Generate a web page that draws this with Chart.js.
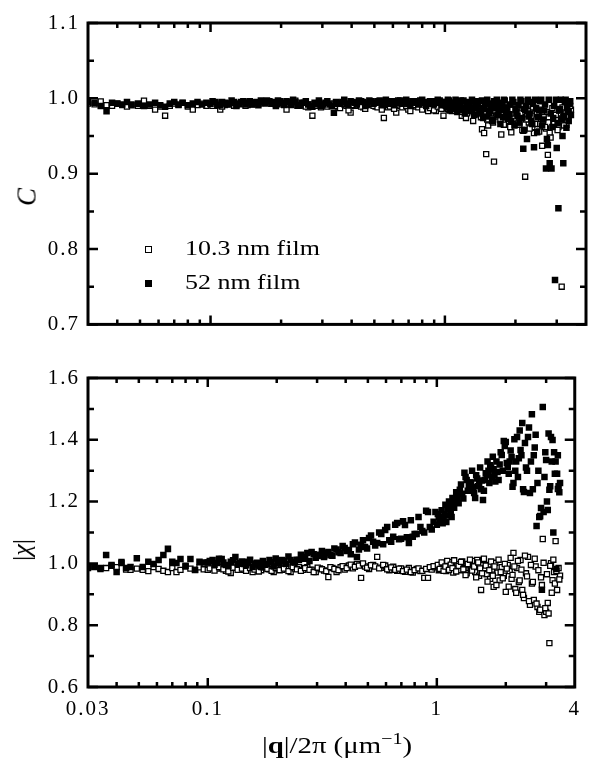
<!DOCTYPE html>
<html>
<head>
<meta charset="utf-8">
<script src="https://cdn.jsdelivr.net/npm/chart.js@4.4.0/dist/chart.umd.min.js"></script>
<style>
  body { margin: 0; background: #fff; width: 590px; height: 766px; position: relative; overflow: hidden;
         font-family: 'Liberation Serif', 'Times New Roman', serif; color: #000; }
  canvas { position: absolute; left: 0; }
  #top { top: 0; }
  #bot { top: 345px; }
  .lab { position: absolute; white-space: nowrap; line-height: 1; }
  .rot { transform: translate(-50%, -50%) rotate(-90deg); }
  .mk { position: absolute; box-sizing: border-box; width: 7px; height: 7px; border: 1.4px solid #000; }
</style>
</head>
<body>
<canvas id="top" width="590" height="345"></canvas>
<canvas id="bot" width="590" height="421"></canvas>

<div class="mk" style="left:145px;top:246px;background:#fff"></div>
<div class="lab" style="left:185px;top:237px;font-size:22px;transform:scaleX(1.18);transform-origin:left">10.3 nm film</div>
<div class="mk" style="left:145px;top:280px;background:#000"></div>
<div class="lab" style="left:185px;top:271px;font-size:22px;transform:scaleX(1.18);transform-origin:left">52 nm film</div>

<div class="lab rot" style="left:27px;top:197px;font-size:27px;font-style:italic">C</div>
<div class="lab rot" style="left:22px;top:550px;font-size:26px">|<i>χ</i>|</div>
<div class="lab" style="left:337px;top:731px;font-size:24px;transform:translateX(-50%) scaleX(1.2)">|<b>q</b>|/2π (μm<sup style="font-size:70%">−1</sup>)</div>

<script>
// q grid (|q|/2pi, 1/um) shared by all series
const qGrid = [
  0.030, 0.032, 0.034, 0.036, 0.038, 0.040, 0.042, 0.044, 0.046, 0.049, 0.052, 0.055,
  0.058, 0.061, 0.064, 0.067, 0.070, 0.073, 0.076, 0.080, 0.084, 0.088, 0.092, 0.096,
  0.100, 0.105, 0.110, 0.115, 0.120, 0.126, 0.132, 0.138, 0.144, 0.150,
  0.157, 0.164, 0.171, 0.178, 0.186, 0.194, 0.202, 0.211, 0.220, 0.230,
  0.240, 0.250, 0.261, 0.272, 0.284, 0.296, 0.309, 0.322, 0.336, 0.350,
  0.365, 0.380, 0.396, 0.413, 0.430, 0.448, 0.467, 0.486, 0.506, 0.527,
  0.549, 0.572, 0.595, 0.620, 0.645, 0.671, 0.698, 0.726, 0.755, 0.785,
  0.816, 0.848, 0.881, 0.915, 0.950, 0.986,
  1.00, 1.02, 1.04, 1.06, 1.08, 1.10, 1.12, 1.14, 1.16, 1.18,
  1.20, 1.23, 1.26, 1.29, 1.32, 1.35, 1.38, 1.41, 1.44, 1.47,
  1.50, 1.53, 1.56, 1.59, 1.62, 1.65, 1.68, 1.71, 1.74, 1.77,
  1.80, 1.84, 1.88, 1.92, 1.96, 2.00, 2.04, 2.08, 2.12, 2.16,
  2.20, 2.24, 2.28, 2.32, 2.36, 2.40, 2.45, 2.50, 2.55, 2.60,
  2.65, 2.70, 2.75, 2.80, 2.85, 2.90, 2.95, 3.00, 3.05, 3.10,
  3.15, 3.20, 3.25, 3.30, 3.35, 3.40, 3.45
];
// second, interleaved q grid (denser part of the data above 0.1)
const qGrid2 = [
  0.102, 0.107, 0.112, 0.117, 0.123, 0.129, 0.135, 0.141, 0.147, 0.153,
  0.160, 0.167, 0.174, 0.182, 0.190, 0.198, 0.206, 0.215, 0.225, 0.235,
  0.245, 0.255, 0.266, 0.278, 0.290, 0.302, 0.315, 0.329, 0.343, 0.357,
  0.372, 0.388, 0.404, 0.421, 0.439, 0.457, 0.476, 0.496, 0.516, 0.538,
  0.560, 0.583, 0.607, 0.632, 0.658, 0.684, 0.712, 0.740, 0.770, 0.800,
  0.832, 0.864, 0.898, 0.932, 0.968,
  1.01, 1.03, 1.05, 1.07, 1.09, 1.11, 1.13, 1.15, 1.17, 1.19,
  1.215, 1.245, 1.275, 1.305, 1.335, 1.365, 1.395, 1.425, 1.455, 1.485,
  1.515, 1.545, 1.575, 1.605, 1.635, 1.665, 1.695, 1.725, 1.755, 1.785,
  1.82, 1.86, 1.90, 1.94, 1.98, 2.02, 2.06, 2.10, 2.14, 2.18,
  2.22, 2.26, 2.30, 2.34, 2.38, 2.425, 2.475, 2.525, 2.575, 2.625,
  2.675, 2.725, 2.775, 2.825, 2.875, 2.925, 2.975, 3.025, 3.075, 3.125,
  3.175, 3.225, 3.275, 3.325, 3.375, 3.425
];

// C, 10.3 nm film (open)
const c10 = [
  0.993, 0.992, 0.996, 0.991, 0.990, 0.993, 0.991, 0.989, 0.992, 0.990, 0.997, 0.990,
  0.985, 0.989, 0.977, 0.990, 0.993, 0.991, 0.994, 0.989, 0.985, 0.991, 0.993, 0.990,
  0.992, 0.990, 0.985, 0.991, 0.993, 0.990, 0.992, 0.994, 0.991, 0.993,
  0.995, 0.993, 0.994, 0.996, 0.995, 0.993, 0.992, 0.985, 0.991, 0.997,
  0.990, 0.992, 0.988, 0.977, 0.990, 0.988, 0.992, 0.991, 0.993, 0.989,
  0.992, 0.990, 0.981, 0.990, 0.992, 0.988, 0.991, 0.993, 0.989, 0.991,
  0.974, 0.988, 0.991, 0.981, 0.990, 0.992, 0.985, 0.990, 0.989, 0.991,
  0.987, 0.983, 0.989, 0.983, 0.988, 0.977,
  0.988, 0.991, 0.985, 0.990, 0.987, 0.992, 0.989, 0.986, 0.990, 0.977,
  0.988, 0.974, 0.985, 0.990, 0.970, 0.984, 0.988, 0.980, 0.959, 0.954,
  0.926, 0.964, 0.982, 0.975, 0.916, 0.986, 0.978, 0.990, 0.952, 0.983,
  0.975, 0.988, 0.970, 0.955, 0.965, 0.980, 0.986, 0.965, 0.975, 0.957,
  0.896, 0.978, 0.968, 0.985, 0.962, 0.954, 0.972, 0.983, 0.966, 0.937,
  0.975, 0.960, 0.925, 0.954, 0.977, 0.968, 0.985, 0.972, 0.962, 0.980,
  0.750, 0.975, 0.988, 0.965, 0.982, 0.990, 0.985
];
const c10b = [
  0.990, 0.993, 0.989, 0.992, 0.994, 0.991, 0.993, 0.990, 0.995, 0.992,
  0.994, 0.996, 0.993, 0.995, 0.992, 0.994, 0.991, 0.993, 0.995, 0.990,
  0.993, 0.989, 0.992, 0.990, 0.994, 0.991, 0.989, 0.993, 0.990, 0.987,
  0.992, 0.984, 0.991, 0.993, 0.989, 0.986, 0.992, 0.990, 0.988, 0.985,
  0.991, 0.989, 0.986, 0.992, 0.988, 0.990, 0.983, 0.991, 0.988, 0.985,
  0.990, 0.987, 0.984, 0.989, 0.986,
  0.990, 0.986, 0.992, 0.983, 0.989, 0.991, 0.985, 0.988, 0.982, 0.990,
  0.986, 0.980, 0.989, 0.984, 0.978, 0.988, 0.982, 0.975, 0.987, 0.979,
  0.972, 0.986, 0.980, 0.968, 0.984, 0.976, 0.988, 0.971, 0.982, 0.965,
  0.987, 0.977, 0.962, 0.985, 0.973, 0.988, 0.968, 0.980, 0.958, 0.986,
  0.972, 0.983, 0.960, 0.977, 0.988, 0.966, 0.979, 0.956, 0.985, 0.970,
  0.962, 0.982, 0.975, 0.948, 0.987, 0.966, 0.978, 0.958, 0.984, 0.970,
  0.988, 0.964, 0.980, 0.975, 0.986, 0.990
];

// C, 52 nm film (filled)
const c52 = [
  0.995, 0.994, 0.990, 0.983, 0.994, 0.993, 0.992, 0.995, 0.991, 0.993, 0.990, 0.992,
  0.994, 0.991, 0.989, 0.993, 0.995, 0.992, 0.994, 0.991, 0.993, 0.995, 0.992, 0.994,
  0.993, 0.995, 0.991, 0.994, 0.992, 0.995, 0.993, 0.996, 0.994, 0.992,
  0.995, 0.997, 0.994, 0.996, 0.995, 0.997, 0.994, 0.996, 0.993, 0.995,
  0.991, 0.994, 0.992, 0.989, 0.993, 0.990, 0.994, 0.992, 0.981, 0.993,
  0.995, 0.993, 0.996, 0.994, 0.997, 0.995, 0.993, 0.996, 0.994, 0.997,
  0.995, 0.993, 0.996, 0.994, 0.997, 0.995, 0.993, 0.996, 0.994, 0.997,
  0.995, 0.993, 0.996, 0.994, 0.997, 0.995,
  0.995, 0.988, 0.997, 0.990, 0.994, 0.986, 0.996, 0.989, 0.993, 0.985,
  0.997, 0.988, 0.994, 0.983, 0.996, 0.987, 0.992, 0.980, 0.997, 0.986,
  0.976, 0.993, 0.983, 0.970, 0.996, 0.987, 0.978, 0.994, 0.985, 0.975,
  0.997, 0.988, 0.979, 0.970, 0.995, 0.986, 0.977, 0.968, 0.996, 0.933,
  0.985, 0.946, 0.976, 0.995, 0.966, 0.935, 0.987, 0.975, 0.996, 0.964,
  0.984, 0.907, 0.938, 0.914, 0.907, 0.974, 0.759, 0.934, 0.854, 0.986,
  0.972, 0.914, 0.995, 0.961, 0.983, 0.993, 0.978
];
const c52b = [
  0.996, 0.991, 0.995, 0.993, 0.997, 0.990, 0.995, 0.992, 0.996, 0.994,
  0.991, 0.995, 0.997, 0.993, 0.990, 0.996, 0.992, 0.995, 0.998, 0.991,
  0.994, 0.996, 0.990, 0.994, 0.997, 0.992, 0.996, 0.990, 0.995, 0.993,
  0.998, 0.991, 0.995, 0.992, 0.996, 0.990, 0.997, 0.993, 0.996, 0.991,
  0.998, 0.994, 0.991, 0.997, 0.993, 0.998, 0.991, 0.996, 0.992, 0.998,
  0.990, 0.996, 0.992, 0.998, 0.991,
  0.991, 0.998, 0.984, 0.994, 0.990, 0.998, 0.982, 0.993, 0.997, 0.988,
  0.980, 0.995, 0.991, 0.998, 0.978, 0.990, 0.996, 0.983, 0.974, 0.992,
  0.998, 0.981, 0.989, 0.972, 0.992, 0.998, 0.983, 0.966, 0.990, 0.998,
  0.981, 0.973, 0.992, 0.998, 0.964, 0.982, 0.991, 0.998, 0.974, 0.958,
  0.990, 0.998, 0.980, 0.969, 0.993, 0.998, 0.955, 0.984, 0.998, 0.972,
  0.992, 0.946, 0.998, 0.980, 0.962, 0.990, 0.998, 0.967, 0.984, 0.998,
  0.950, 0.977, 0.998, 0.988, 0.970, 0.996
];

// |chi|, 10.3 nm film (open)
const chi10 = [
  0.985, 0.990, 0.982, 0.985, 0.992, 0.988, 1.005, 0.980, 0.979, 0.983, 0.979, 0.975,
  0.988, 0.982, 0.976, 0.972, 0.985, 0.972, 0.979, 0.990, 0.983, 0.979, 0.987, 0.981,
  0.979, 0.990, 0.983, 0.985, 0.976, 0.969, 0.986, 0.980, 0.979, 0.988,
  0.972, 0.983, 0.978, 0.988, 0.981, 0.972, 0.984, 0.979, 0.986, 0.972,
  0.983, 0.988, 0.979, 0.988, 0.980, 0.972, 0.984, 0.977, 0.956, 0.985,
  0.972, 0.988, 0.980, 0.993, 0.984, 0.998, 0.953, 0.990, 0.982, 0.995,
  1.021, 0.986, 0.993, 0.978, 0.989, 0.976, 0.984, 0.973, 0.985, 0.970,
  0.982, 0.975, 0.953, 0.953, 0.980, 0.987,
  0.990, 0.978, 0.995, 0.985, 1.000, 0.975, 0.992, 0.983, 1.004, 0.970,
  0.988, 0.998, 0.978, 1.006, 0.985, 0.968, 0.996, 0.980, 1.008, 0.972,
  1.011, 0.960, 0.914, 1.011, 0.985, 0.965, 0.995, 0.950, 0.980, 0.924,
  1.002, 0.970, 0.945, 0.988, 0.960, 0.908, 0.995, 0.975, 0.950, 1.034,
  0.917, 0.985, 0.940, 1.011, 0.914, 0.888, 0.968, 1.021, 0.866, 0.935,
  0.882, 0.990, 0.859, 0.843, 0.955, 1.079, 0.833, 0.843, 0.872, 0.742,
  1.001, 0.946, 0.972, 1.072, 0.914, 0.985, 0.960
];
const chi10b = [
  0.984, 0.977, 0.988, 0.981, 0.974, 0.986, 0.979, 0.983, 0.976, 0.985,
  0.980, 0.974, 0.987, 0.982, 0.976, 0.985, 0.978, 0.983, 0.975, 0.988,
  0.981, 0.976, 0.985, 0.979, 0.972, 0.986, 0.981, 0.975, 0.988, 0.982,
  0.978, 0.991, 0.985, 0.996, 0.989, 0.993, 1.000, 0.986, 0.994, 0.990,
  0.984, 0.995, 0.981, 0.987, 0.979, 0.983, 0.975, 0.980, 0.972, 0.978,
  0.984, 0.976, 0.982, 0.988, 0.991,
  0.995, 0.982, 1.003, 0.976, 0.990, 1.008, 0.979, 0.996, 0.985, 1.010,
  0.974, 0.992, 1.005, 0.981, 0.962, 0.998, 1.012, 0.977, 0.990, 0.955,
  1.003, 0.984, 0.968, 1.015, 0.993, 0.941, 0.978, 1.006, 0.960, 0.990,
  0.930, 1.012, 0.972, 0.952, 0.998, 0.983, 0.925, 1.018, 0.963, 0.990,
  0.905, 1.008, 0.945, 0.980, 0.898, 1.025, 0.958, 0.878, 0.995, 0.940,
  1.015, 0.870, 0.978, 0.850, 0.930, 1.002, 0.855, 0.965, 0.838, 0.992,
  0.905, 1.012, 0.935, 0.975, 1.241, 0.948
];

// |chi|, 52 nm film (filled)
const chi52 = [
  0.988, 0.988, 0.985, 1.027, 0.995, 0.972, 1.001, 0.985, 0.988, 1.017, 0.988, 1.005,
  0.998, 1.011, 1.027, 1.047, 1.005, 1.001, 1.014, 0.992, 1.014, 0.979, 1.005, 1.003,
  1.003, 1.011, 1.001, 1.014, 0.995, 1.005, 1.021, 1.001, 0.998, 1.005,
  0.988, 1.002, 0.988, 0.996, 1.011, 0.990, 1.005, 1.011, 0.998, 1.011,
  1.003, 1.011, 1.020, 1.034, 1.037, 1.018, 1.028, 1.021, 1.037, 1.025,
  1.045, 1.034, 1.050, 1.043, 1.062, 1.021, 1.060, 1.053, 1.082, 1.070,
  1.066, 1.095, 1.108, 1.075, 1.086, 1.131, 1.080, 1.124, 1.066, 1.086,
  1.095, 1.118, 1.100, 1.166, 1.110, 1.166,
  1.125, 1.150, 1.147, 1.130, 1.160, 1.134, 1.175, 1.183, 1.150, 1.195,
  1.205, 1.215, 1.238, 1.225, 1.293, 1.270, 1.250, 1.262, 1.247, 1.212,
  1.275, 1.260, 1.240, 1.205, 1.270, 1.285, 1.300, 1.318, 1.280, 1.305,
  1.265, 1.296, 1.320, 1.351, 1.396, 1.393, 1.312, 1.330, 1.344, 1.260,
  1.300, 1.409, 1.340, 1.367, 1.454, 1.231, 1.310, 1.409, 1.228, 1.483,
  1.350, 1.416, 1.260, 1.150, 1.179, 1.506, 1.280, 1.335, 1.173, 1.238,
  1.409, 1.399, 1.360, 1.330, 1.290, 1.250, 1.260
];
const chi52b = [
  1.008, 0.996, 1.015, 1.003, 0.992, 1.010, 0.999, 1.006, 0.994, 1.012,
  1.000, 0.993, 1.008, 0.997, 1.004, 1.016, 1.000, 1.008, 1.022, 1.004,
  1.012, 1.028, 1.015, 1.008, 1.030, 1.024, 1.040, 1.033, 1.026, 1.048,
  1.036, 1.056, 1.040, 1.030, 1.068, 1.045, 1.075, 1.048, 1.090, 1.058,
  1.100, 1.062, 1.118, 1.070, 1.125, 1.078, 1.136, 1.085, 1.140, 1.095,
  1.150, 1.105, 1.170, 1.118, 1.135,
  1.160, 1.138, 1.172, 1.145, 1.190, 1.155, 1.200, 1.168, 1.212, 1.180,
  1.230, 1.195, 1.255, 1.210, 1.280, 1.235, 1.262, 1.300, 1.228, 1.285,
  1.250, 1.310, 1.268, 1.235, 1.292, 1.330, 1.260, 1.310, 1.345, 1.285,
  1.330, 1.270, 1.360, 1.300, 1.380, 1.325, 1.290, 1.365, 1.248, 1.402,
  1.330, 1.280, 1.430, 1.350, 1.240, 1.390, 1.300, 1.440, 1.330, 1.240,
  1.375, 1.121, 1.300, 1.153, 0.915, 1.166, 1.360, 1.200, 1.420, 1.250,
  1.330, 1.100, 1.290, 0.982, 1.350, 1.230
];

const xTickValues = [0.03, 0.1, 1, 4];
const xTickLabels = ['0.03', '0.1', '1', '4'];
const xMajor = [0.1, 1];
const xMinor = [0.04, 0.05, 0.06, 0.07, 0.08, 0.09, 0.2, 0.3, 0.4, 0.5, 0.6, 0.7, 0.8, 0.9, 2, 3];
const cMajor = [0.7, 0.8, 0.9, 1.0, 1.1];
const cMinor = [0.75, 0.85, 0.95, 1.05];
const chiMajor = [0.6, 0.8, 1.0, 1.2, 1.4, 1.6];
const chiMinor = [0.7, 0.9, 1.1, 1.3, 1.5];

const FONT = "'Liberation Serif', 'Times New Roman', serif";

function pts(ys, ys2) {
  const a = qGrid.map((q, i) => ({ x: q, y: ys[i] }));
  const b = qGrid2.map((q, i) => ({ x: q, y: ys2[i] }));
  return a.concat(b);
}

function frameTicks(yMajor, yMinor) {
  return {
    id: 'frameTicks',
    beforeDraw(chart) {
      chart.ctx.letterSpacing = '2px';
    },
    afterDraw(chart) {
      const { ctx, chartArea: a } = chart;
      const x = chart.scales.x, y = chart.scales.y;
      ctx.save();
      ctx.strokeStyle = '#000';
      ctx.lineWidth = 2.5;
      ctx.beginPath();
      const vx = (v, len) => {
        const p = x.getPixelForValue(v);
        ctx.moveTo(p, a.bottom); ctx.lineTo(p, a.bottom - len);
        ctx.moveTo(p, a.top); ctx.lineTo(p, a.top + len);
      };
      const hy = (v, len) => {
        const p = y.getPixelForValue(v);
        ctx.moveTo(a.left, p); ctx.lineTo(a.left + len, p);
        ctx.moveTo(a.right, p); ctx.lineTo(a.right - len, p);
      };
      xMinor.forEach(v => vx(v, 5));
      xMajor.forEach(v => vx(v, 9));
      yMinor.forEach(v => hy(v, 6));
      yMajor.forEach(v => hy(v, 10));
      ctx.stroke();
      ctx.lineWidth = 3;
      ctx.strokeRect(a.left, a.top, a.right - a.left, a.bottom - a.top);
      ctx.restore();
    }
  };
}

function datasets(openYs, openYs2, filledYs, filledYs2) {
  return [
    {
      label: '52 nm film',
      data: pts(filledYs, filledYs2),
      pointStyle: 'rect',
      pointRadius: 4.6,
      borderWidth: 0,
      backgroundColor: '#000',
      borderColor: '#000'
    },
    {
      label: '10.3 nm film',
      data: pts(openYs, openYs2),
      pointStyle: 'rect',
      pointRadius: 3.6,
      borderWidth: 1.3,
      backgroundColor: '#fff',
      borderColor: '#000'
    }
  ];
}

function xScale(showLabels, height) {
  return {
    type: 'logarithmic',
    min: 0.03,
    max: 4,
    afterBuildTicks: s => { s.ticks = xTickValues.map(v => ({ value: v })); },
    afterFit: s => { s.height = height; },
    grid: { display: false, drawTicks: false },
    border: { display: false },
    ticks: {
      display: showLabels,
      autoSkip: false,
      maxRotation: 0,
      padding: 10,
      color: '#000',
      font: { family: FONT, size: 21 },
      callback: v => xTickLabels[xTickValues.indexOf(v)]
    }
  };
}

function yScale(min, max, step) {
  return {
    min: min,
    max: max,
    afterFit: s => { s.width = 88; },
    grid: { display: false, drawTicks: false },
    border: { display: false },
    ticks: {
      stepSize: step,
      padding: 8,
      color: '#000',
      font: { family: FONT, size: 21 },
      callback: v => Number(v).toFixed(1)
    }
  };
}

new Chart(document.getElementById('top'), {
  type: 'scatter',
  data: { datasets: datasets(c10, c10b, c52, c52b) },
  options: {
    responsive: false,
    animation: false,
    layout: { autoPadding: false, padding: { top: 23, right: 4, left: 0, bottom: 12 } },
    plugins: { legend: { display: false }, tooltip: { enabled: false } },
    scales: { x: xScale(false, 0), y: yScale(0.7, 1.1, 0.1) }
  },
  plugins: [frameTicks(cMajor, cMinor)]
});

new Chart(document.getElementById('bot'), {
  type: 'scatter',
  data: { datasets: datasets(chi10, chi10b, chi52, chi52b) },
  options: {
    responsive: false,
    animation: false,
    layout: { autoPadding: false, padding: { top: 33, right: 4, left: 0, bottom: 0 } },
    plugins: { legend: { display: false }, tooltip: { enabled: false } },
    scales: { x: xScale(true, 79), y: yScale(0.6, 1.6, 0.2) }
  },
  plugins: [frameTicks(chiMajor, chiMinor)]
});
</script>
</body>
</html>
